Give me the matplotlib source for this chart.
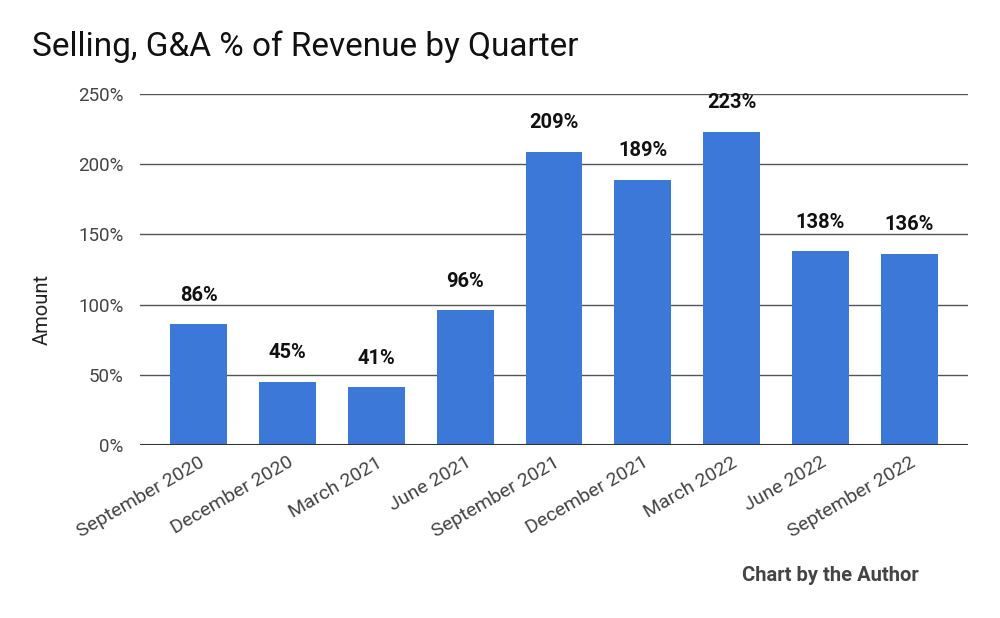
import numpy as np
from matplotlib import pyplot as plt

plt.rcParams['font.family'] = ['Roboto', 'DejaVu Sans']

# データ
quarters = ['September 2020', 'December 2020', 'March 2021', 'June 2021',
            'September 2021', 'December 2021', 'March 2022', 'June 2022',
            'September 2022']
sga_pct = [86, 45, 41, 96, 209, 189, 223, 138, 136]
yticks = [0, 50, 100, 150, 200, 250]

fig = plt.figure(figsize=(10, 6.18), dpi=100)
ax = fig.add_axes([0.14, 0.28, 0.828, 0.568])

x = np.arange(len(quarters))
ax.bar(x, sga_pct, width=0.64, color='#3c78d8', zorder=3)

# 棒の上にラベル
for xi, v in zip(x, sga_pct):
    ax.text(xi, v + 14, '{}%'.format(v), ha='center', va='bottom',
            fontsize=14.5, fontweight='bold', color='#111111')

ax.set_xlim(-0.66, len(quarters) - 1 + 0.66)
ax.set_ylim(0, 250)
ax.set_yticks(yticks)
ax.set_yticklabels(['{}%'.format(t) for t in yticks])
ax.grid(axis='y', color='#555555', linewidth=1, zorder=0)
ax.axhline(0, color='#333333', linewidth=1.5, zorder=4)

for s in ax.spines.values():
    s.set_visible(False)
ax.tick_params(axis='both', length=0, labelcolor='#444444')
ax.tick_params(axis='y', pad=12, labelsize=13.5)
ax.tick_params(axis='x', pad=6, labelsize=14)

ax.set_xticks(x)
ax.set_xticklabels(quarters, rotation=30, ha='right', rotation_mode='anchor')

ax.set_ylabel('Amount', fontsize=14.5, color='#222222')
ax.yaxis.set_label_coords(-0.107, 0.385)

fig.text(0.032, 0.925, 'Selling, G&A % of Revenue by Quarter', fontsize=24,
         color='#111111', va='center')
fig.text(0.83, 0.068, 'Chart by the Author', fontsize=14.5, fontweight='bold',
         color='#444444', ha='center', va='center')

fig.savefig('out.png')
